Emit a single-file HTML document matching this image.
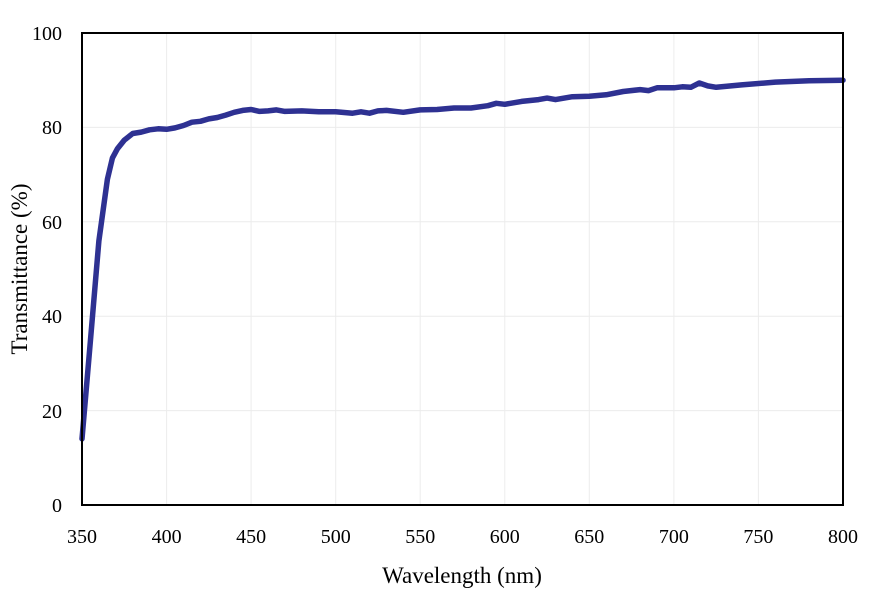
<!DOCTYPE html>
<html><head><meta charset="utf-8"><style>
body{margin:0;background:#fff}
text{font-family:"Liberation Serif",serif;fill:#000}
</style></head><body>
<svg id="s" width="879" height="599" xmlns="http://www.w3.org/2000/svg">
<g stroke="#ececec" stroke-width="1">
<line x1="82" y1="410.6" x2="843" y2="410.6"/><line x1="82" y1="316.2" x2="843" y2="316.2"/>
<line x1="82" y1="221.8" x2="843" y2="221.8"/><line x1="82" y1="127.4" x2="843" y2="127.4"/>
<line x1="166.6" y1="33" x2="166.6" y2="505"/><line x1="251.1" y1="33" x2="251.1" y2="505"/>
<line x1="335.7" y1="33" x2="335.7" y2="505"/><line x1="420.2" y1="33" x2="420.2" y2="505"/>
<line x1="504.8" y1="33" x2="504.8" y2="505"/><line x1="589.3" y1="33" x2="589.3" y2="505"/>
<line x1="673.9" y1="33" x2="673.9" y2="505"/><line x1="758.4" y1="33" x2="758.4" y2="505"/>
</g>
<polyline id="p" fill="none" stroke="#2e3192" stroke-width="5.5" stroke-linejoin="round" stroke-linecap="round" points=""/>
<rect x="82" y="33" width="761" height="472" fill="none" stroke="#000" stroke-width="2"/>
<g font-size="20" text-anchor="end">
<text x="62" y="512">0</text><text x="62" y="418">20</text><text x="62" y="323">40</text>
<text x="62" y="229">60</text><text x="62" y="134">80</text><text x="62" y="40">100</text>
</g>
<g font-size="20" text-anchor="middle">
<text x="82" y="543">350</text><text x="166.6" y="543">400</text><text x="251.1" y="543">450</text>
<text x="335.7" y="543">500</text><text x="420.2" y="543">550</text><text x="504.8" y="543">600</text>
<text x="589.3" y="543">650</text><text x="673.9" y="543">700</text><text x="758.4" y="543">750</text>
<text x="843" y="543">800</text>
</g>
<text x="462" y="583" font-size="23" text-anchor="middle">Wavelength (nm)</text>
<text transform="translate(27,269) rotate(-90)" font-size="23" text-anchor="middle">Transmittance (%)</text>
</svg>
<script>
var d=[[350,14],[355,35],[360,56],[365,69],[368,73.5],[371,75.5],[375,77.3],[380,78.7],[385,79],[390,79.5],[395,79.7],[400,79.6],[405,79.9],[410,80.4],[415,81.1],[420,81.3],[425,81.8],[430,82.1],[435,82.6],[440,83.2],[445,83.6],[450,83.8],[455,83.4],[460,83.5],[465,83.7],[470,83.4],[480,83.5],[490,83.3],[500,83.3],[510,83],[515,83.3],[520,83],[525,83.5],[530,83.6],[540,83.2],[550,83.7],[560,83.8],[570,84.1],[580,84.1],[590,84.6],[595,85.1],[600,84.9],[610,85.5],[620,85.9],[625,86.2],[630,85.9],[640,86.5],[650,86.6],[660,86.9],[670,87.6],[680,88.0],[685,87.8],[690,88.4],[700,88.4],[705,88.6],[710,88.5],[715,89.4],[720,88.8],[725,88.5],[740,89.0],[760,89.6],[780,89.9],[800,90.0]];
document.getElementById('p').setAttribute('points',d.map(function(a){return (82+(a[0]-350)*1.6911).toFixed(1)+','+(505-a[1]*4.72).toFixed(1)}).join(' '));
</script>
</body></html>
